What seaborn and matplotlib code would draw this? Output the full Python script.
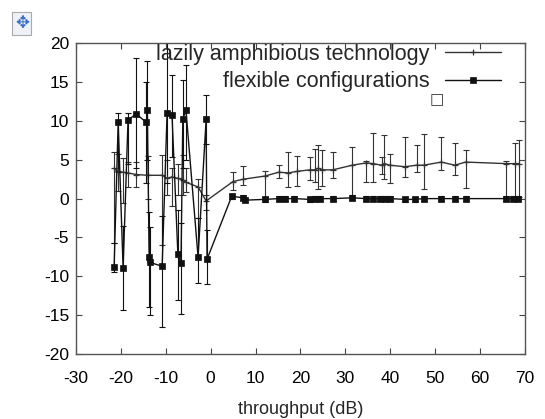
import numpy as np
import pandas as pd
import matplotlib
matplotlib.use("Agg")
import matplotlib.pyplot as plt
from matplotlib.lines import Line2D
import seaborn as sns

# ---- data ----
series_names = ["lazily amphibious technology", "flexible configurations"]

x1 = [-21.5, -20.6, -19.5, -18.4, -16.6, -14.0, -10.8, -9.7, -8.6, -7.3, -6.2, -5.5,
      -2.8, -1.0, 5.0, 7.3, 12.1, 15.2, 17.3, 19.2, 22.1, 23.2, 24.0, 24.7, 27.2,
      31.6, 34.7, 36.2, 38.1, 38.7, 39.9, 43.3, 45.9, 47.5, 51.4, 54.4, 56.8,
      65.9, 67.8, 68.7]
y1 = [3.9, 3.4, 3.4, 3.3, 3.1, 3.0, 3.0, 2.6, 2.8, 2.6, 2.4, 2.1,
      1.5, -0.3, 2.2, 2.5, 2.9, 3.4, 3.3, 3.5, 3.7, 3.7, 3.9, 3.7, 3.7,
      4.3, 4.6, 4.5, 4.3, 4.5, 4.3, 4.1, 4.3, 4.3, 4.7, 4.3, 4.7,
      4.5, 4.5, 4.5]
y1_lo = [-5.7, 1.0, -0.6, 1.5, 1.5, 0.0, -6.0, 0.5, -1.0, 0.5, 0.5, 0.8,
         -2.5, -1.5, 1.1, 1.7, 0.2, 2.6, 1.5, 1.6, 2.4, 2.2, 1.2, 1.6, 2.6,
         0.2, 2.2, 2.2, 3.2, 2.5, 2.0, 2.8, 3.4, 1.2, 3.7, 3.0, 1.4,
         0.2, 0.2, 0.2]
y1_hi = [6.0, 5.8, 5.2, 4.7, 4.7, 5.5, 5.6, 5.0, 4.0, 4.5, 5.6, 4.0,
         2.5, 0.5, 3.4, 4.2, 3.5, 4.3, 6.0, 5.5, 5.3, 6.4, 6.9, 6.2, 6.0,
         6.7, 4.9, 8.4, 5.4, 8.2, 5.8, 7.9, 6.9, 8.3, 7.9, 7.1, 6.3,
         4.9, 7.1, 7.6]

x2 = [-21.5, -20.6, -19.5, -18.4, -16.6, -14.3, -14.1, -13.7, -13.6, -10.8, -9.7,
      -8.6, -7.3, -6.6, -6.2, -5.5, -2.8, -1.0, -0.8,
      4.7, 7.3, 7.6, 12.1, 15.2, 16.5, 18.6, 22.1, 23.2, 24.3, 27.2, 31.6, 34.7,
      36.2, 37.7, 38.8, 39.9, 43.3, 45.5, 47.5, 51.4, 54.4, 56.8, 65.9, 67.4, 68.5]
y2 = [-8.8, 9.8, -8.9, 10.1, 10.9, 9.8, 11.4, -7.5, -8.2, -8.7, 11.0,
      10.7, -7.1, -8.3, 10.2, 11.4, -7.5, 10.2, -7.8,
      0.3, 0.1, -0.2, -0.1, 0.0, 0.0, 0.0, -0.1, 0.0, 0.0, 0.0, 0.1, 0.0,
      0.0, 0.0, 0.0, 0.0, -0.1, -0.1, 0.0, 0.0, 0.0, 0.0, 0.0, 0.0, 0.0]
y2_lo = [-9.5, 3.5, -14.3, 4.5, 4.0, 2.0, 5.0, -13.9, -15.0, -16.5, 2.0,
         5.4, -13.0, -14.8, 4.0, 5.0, -10.9, 7.0, -11.0,
         0.0, -0.2, -0.5, -0.4, -0.3, -0.3, -0.3, -0.4, -0.3, -0.3, -0.3, -0.2, -0.3,
         -0.3, -0.3, -0.3, -0.3, -0.4, -0.4, -0.3, -0.3, -0.3, -0.3, -0.3, -0.3, -0.3]
y2_hi = [-5.7, 11.0, -3.5, 11.0, 18.1, 15.0, 17.7, -1.7, -3.6, -2.3, 20.0,
         15.9, -1.5, -3.2, 15.2, 17.2, -2.5, 13.3, -4.0,
         0.6, 0.4, 0.1, 0.2, 0.3, 0.3, 0.3, 0.2, 0.3, 0.3, 0.3, 0.4, 0.3,
         0.3, 0.3, 0.3, 0.3, 0.2, 0.2, 0.3, 0.3, 0.3, 0.3, 0.3, 0.3, 0.3]

x_ticks = [-30, -20, -10, 0, 10, 20, 30, 40, 50, 60, 70]
y_ticks = [-20, -15, -10, -5, 0, 5, 10, 15, 20]
x_label = "throughput (dB)"

# ---- figure ----
sns.set_style("ticks")
plt.rcParams['font.family'] = ['Liberation Sans', 'DejaVu Sans']

fig = plt.figure(figsize=(5.45, 4.19), dpi=100)
ax = fig.add_axes([0.1394, 0.155, 0.8236, 0.742])

df1 = pd.DataFrame({"x": x1, "y": y1, "lo": y1_lo, "hi": y1_hi})
df2 = pd.DataFrame({"x": x2, "y": y2, "lo": y2_lo, "hi": y2_hi})

c1 = "#333333"
c2 = "#111111"
for df, col in ((df1, c1), (df2, c2)):
    ax.errorbar(df["x"], df["y"], yerr=[df["y"] - df["lo"], df["hi"] - df["y"]],
                fmt="none", ecolor=col, elinewidth=0.8, capsize=2, capthick=0.8,
                zorder=2)

sty1 = dict(color=c1, linewidth=1.0, marker="+", markersize=5,
            markeredgewidth=0.9, markeredgecolor=c1)
sty2 = dict(color=c2, linewidth=1.0, marker="s", markersize=4.8,
            markeredgewidth=0.5, markeredgecolor=c2, markerfacecolor=c2)
sns.lineplot(data=df1, x="x", y="y", ax=ax, estimator=None, sort=False,
             legend=False, zorder=3, **sty1)
sns.lineplot(data=df2, x="x", y="y", ax=ax, estimator=None, sort=False,
             legend=False, zorder=3, **sty2)

ax.set_xlim(-30, 70)
ax.set_ylim(-20, 20)
ax.set_xticks(x_ticks)
ax.set_yticks(y_ticks)
ax.set_xticklabels([str(t) for t in x_ticks])
ax.set_yticklabels([str(t) for t in y_ticks])
ax.tick_params(direction="in", top=True, right=True, length=4, width=0.8,
               labelsize=12.5, colors="#444444", labelcolor="black")
ax.tick_params(axis="x", pad=12)
ax.tick_params(axis="y", pad=5)
for s in ax.spines.values():
    s.set_visible(True)
    s.set_color("#555555")
    s.set_linewidth(1.0)

ax.set_xlabel(x_label, fontsize=13, labelpad=11)
ax.set_ylabel("")

handles = [Line2D([0], [0], **sty1), Line2D([0], [0], **sty2)]
leg = ax.legend(handles, series_names, loc="upper right",
                bbox_to_anchor=(0.965, 1.025), frameon=False,
                markerfirst=False, fontsize=15.5, handlelength=2.6, numpoints=1,
                handletextpad=0.7, labelspacing=0.3, borderaxespad=0.0)

# small empty key box under the legend
ax.text(0.805, 0.818, "\u25a1", transform=ax.transAxes, fontsize=11,
        family=["DejaVu Sans"], ha="center", va="center", color="#333333")

# move icon at top left
fig.text(0.040, 0.945, "\u2725", fontsize=12, color="#3a6fc4",
         family=["DejaVu Sans"], ha="center", va="center",
         bbox=dict(boxstyle="square,pad=0.15", fc="#eef2f8", ec="#aaaaaa", lw=0.8))

fig.savefig("out.png", dpi=100)
